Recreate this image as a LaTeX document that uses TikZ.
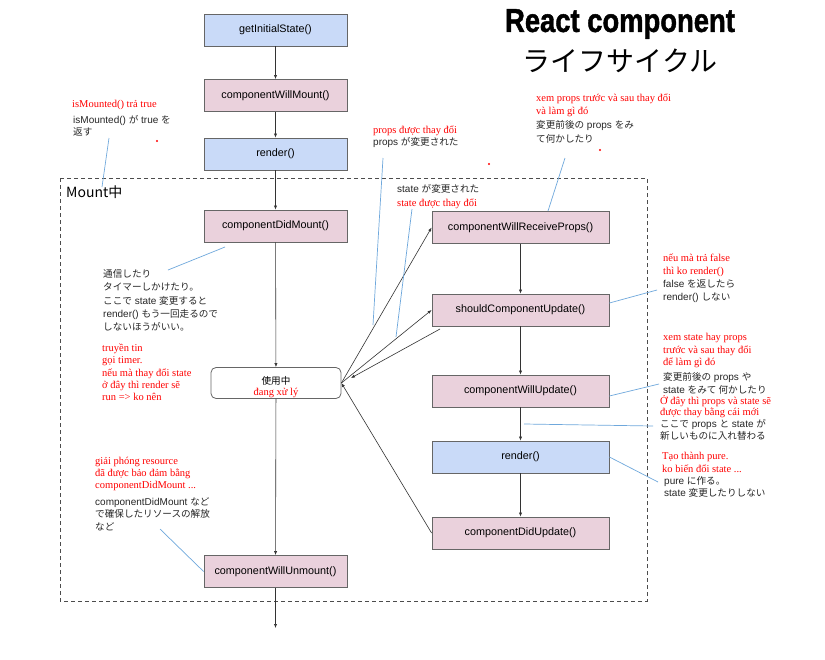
\documentclass[tikz,border=0pt]{standalone}
\usepackage{fontspec}
\setmainfont{Liberation Sans}
\newfontfamily\jpfont{Noto Sans CJK JP}
\newfontfamily\vnfont{Liberation Serif}
\newfontfamily\titlefont{Liberation Sans}[UprightFont={* Bold}, FakeBold=1.5]
\newcommand\ja[1]{{\jpfont\fontsize{9.6}{11}\selectfont #1}}
\usetikzlibrary{arrows.meta}

\definecolor{boxblue}{RGB}{201,218,248}
\definecolor{boxpink}{RGB}{234,209,220}
\definecolor{noteblue}{RGB}{111,168,220}

\begin{document}
\begin{tikzpicture}[x=1pt, y=-1pt,
    blk/.style={draw=black!60, line width=0.8pt, minimum height=32pt, inner sep=0pt, font=\fontsize{10.8}{12}\selectfont},
    lbox/.style={blk, minimum width=143pt},
    rbox/.style={blk, minimum width=177pt},
    jp/.style={font=\fontsize{10}{11}\selectfont, text=black!85, anchor=west, inner sep=0pt, text height=7pt, text depth=0pt},
    vn/.style={font=\vnfont\fontsize{10.5}{11}\selectfont, text=red, anchor=west, inner sep=0pt, text height=7.3pt, text depth=0pt},
    arr/.style={-{Latex[length=4pt,width=3.2pt]}, draw=black!80, line width=0.6pt},
    note/.style={draw=noteblue, line width=0.7pt}]
    \useasboundingbox[fill=white] (0,0) rectangle (825,659);

    % Mount frame
    \draw[black!70, line width=0.6pt, dash pattern=on 4pt off 3pt] (60,178) rectangle (647,601);
    \node[anchor=west, inner sep=0pt, font=\jpfont\fontsize{14}{16}\selectfont] (mount) at (66,192) {Mount中};

    % title
    \node[inner sep=0pt] (title) at (620,24) {\scalebox{0.83}[1]{\titlefont\fontsize{33}{33}\selectfont React component}};
    \node[inner sep=0pt, font=\jpfont\fontsize{28}{30}\selectfont] (title2) at (620,61) {ライフサイクル};

    % left column
    \node[lbox, fill=boxblue] (init) at (275.5,30) {getInitialState()};
    \node[lbox, fill=boxpink] (cwm) at (275.5,95.5) {componentWillMount()};
    \node[lbox, fill=boxblue] (rnd) at (275.5,154) {render()};
    \node[lbox, fill=boxpink] (cdm) at (275.5,226) {componentDidMount()};
    \node[draw=black!60, line width=0.8pt, rounded corners=5pt, minimum width=130pt, minimum height=31pt] (use) at (276,383) {};
    \node[inner sep=0pt, font=\jpfont\fontsize{9.6}{11}\selectfont] (usejp) at (276,381) {使用中};
    \node[inner sep=0pt, font=\vnfont\fontsize{10.5}{11}\selectfont, text=red] (usevn) at (276,393) {đang xử lý};
    \node[lbox, fill=boxpink] (cwu) at (275.5,571.5) {componentWillUnmount()};
    \coordinate (theend) at (275.5,628);

    % right column
    \node[rbox, fill=boxpink] (cwrp) at (520.5,227.5) {componentWillReceiveProps()};
    \node[rbox, fill=boxpink] (scu) at (520.5,310) {shouldComponentUpdate()};
    \node[rbox, fill=boxpink] (cwup) at (520.5,391) {componentWillUpdate()};
    \node[rbox, fill=boxblue] (rnd2) at (520.5,457) {render()};
    \node[rbox, fill=boxpink] (cdu) at (520.5,533) {componentDidUpdate()};

    \draw[arr] (init) -- (cwm);
    \draw[arr] (cwm) -- (rnd);
    \draw[arr] (rnd) -- (cdm);
    \draw[arr] (cdm) -- (use);
    \draw[arr] (use) -- (cwu);
    \draw[arr] (cwu) -- (theend);
    \draw[arr] (cwrp) -- (scu);
    \draw[arr] (scu) -- (cwup);
    \draw[arr] (cwup) -- (rnd2);
    \draw[arr] (rnd2) -- (cdu);

    \draw[arr] (use.east) -- (cwrp.west);
    \draw[arr] (use.east) -- (scu.west);
    \coordinate (sback) at (440,329);
    \coordinate (uback) at (351,378);
    \draw[arr] (sback) -- (uback);
    \draw[arr] (cdu.west) -- (use.east);

    % notes, left
    \node[vn] (m1) at (72,104) {isMounted() trả true};
    \node[jp] (m2) at (73,120) {isMounted() \ja{が} true \ja{を}};
    \node[jp] (m3) at (73,132) {\ja{返す}};
    \coordinate (m4) at (109,138);
    \coordinate (m5) at (102,187);
    \draw[note] (m4) -- (m5);

    \node[jp] (d1) at (103,274) {\ja{通信したり}};
    \node[jp] (d2) at (103,287) {\ja{タイマーしかけたり。}};
    \node[jp] (d3) at (103,301) {\ja{ここで} state \ja{変更すると}};
    \node[jp] (d4) at (103,314) {render() \ja{もう一回走るので}};
    \node[jp] (d5) at (103,327) {\ja{しないほうがいい。}};
    \coordinate (d6) at (168,270);
    \coordinate (d7) at (225,247);
    \draw[note] (d6) -- (d7);
    \node[vn] (e1) at (102,348) {truyền tin};
    \node[vn] (e2) at (102,360) {gọi timer.};
    \node[vn] (e3) at (102,373) {nếu mà thay đổi state};
    \node[vn] (e4) at (102,385) {ở đây thì render sẽ};
    \node[vn] (e5) at (102,397) {run => ko nên};

    \node[vn] (u1) at (95,461) {giải phóng resource};
    \node[vn] (u2) at (95,473) {đã được bảo đảm bằng};
    \node[vn] (u3) at (95,485) {componentDidMount ...};
    \node[jp] (u4) at (95,502) {componentDidMount \ja{など}};
    \node[jp] (u5) at (95,514) {\ja{で確保したリソースの解放}};
    \node[jp] (u6) at (95,527) {\ja{など}};
    \coordinate (u7) at (160,529);
    \draw[note] (u7) -- (cwu.west);

    % notes, middle
    \node[vn] (p1) at (373,130) {props được thay đổi};
    \node[jp] (p2) at (373,142) {props \ja{が変更された}};
    \coordinate (p3) at (383,158);
    \coordinate (p4) at (373,325);
    \draw[note] (p3) -- (p4);
    \node[jp] (s1) at (397,189) {state \ja{が変更された}};
    \node[vn] (s2) at (397,203) {state được thay đổi};
    \coordinate (s3) at (412,209);
    \coordinate (s4) at (396,337);
    \draw[note] (s3) -- (s4);

    \node[vn] (r1) at (536,98) {xem props trước và sau thay đổi};
    \node[vn] (r2) at (536,111) {và làm gì đó};
    \node[jp] (r3) at (536,125) {\ja{変更前後の} props \ja{をみ}};
    \node[jp] (r4) at (536,139) {\ja{て何かしたり}};
    \coordinate (r5) at (565,158);
    \coordinate (r6) at (548,211);
    \draw[note] (r5) -- (r6);

    % notes, right
    \node[vn] (f1) at (663,258) {nếu mà trả false};
    \node[vn] (f2) at (663,271) {thì ko render()};
    \node[jp] (f3) at (663,284) {false \ja{を返したら}};
    \node[jp] (f4) at (663,297) {render() \ja{しない}};
    \coordinate (f5) at (657,290);
    \draw[note] (scu.east |- 0,303) -- (f5);

    \node[vn] (w1) at (663,337) {xem state hay props};
    \node[vn] (w2) at (663,350) {trước và sau thay đổi};
    \node[vn] (w3) at (663,362) {để làm gì đó};
    \node[jp] (w4) at (663,377) {\ja{変更前後の} props \ja{や}};
    \node[jp] (w5) at (663,390) {state \ja{をみて 何かしたり}};
    \coordinate (w6) at (659,384);
    \draw[note] (cwup.east |- 0,396) -- (w6);

    \node[vn] (h1) at (660,401) {Ở đây thì props và state sẽ};
    \node[vn] (h2) at (660,412) {được thay bằng cái mới};
    \node[jp] (h3) at (660,423.5) {\ja{ここで} props \ja{と} state \ja{が}};
    \node[jp] (h4) at (660,436) {\ja{新しいものに入れ替わる}};
    \coordinate (h5) at (524,424);
    \coordinate (h6) at (653,426);
    \draw[note] (h5) -- (h6);

    \node[vn] (t1) at (662,456) {Tạo thành pure.};
    \node[vn] (t2) at (662,469) {ko biến đổi state ...};
    \node[jp] (t3) at (664,481) {pure \ja{に作る。}};
    \node[jp] (t4) at (664,493) {state \ja{変更したりしない}};
    \coordinate (t5) at (658,482);
    \draw[note] (rnd2.east) -- (t5);

    % stray dots
    \fill[red] (157,141) circle (1.1);
    \fill[red] (489,164) circle (1.1);
    \fill[red] (600,150) circle (1.1);
\end{tikzpicture}
\end{document}
